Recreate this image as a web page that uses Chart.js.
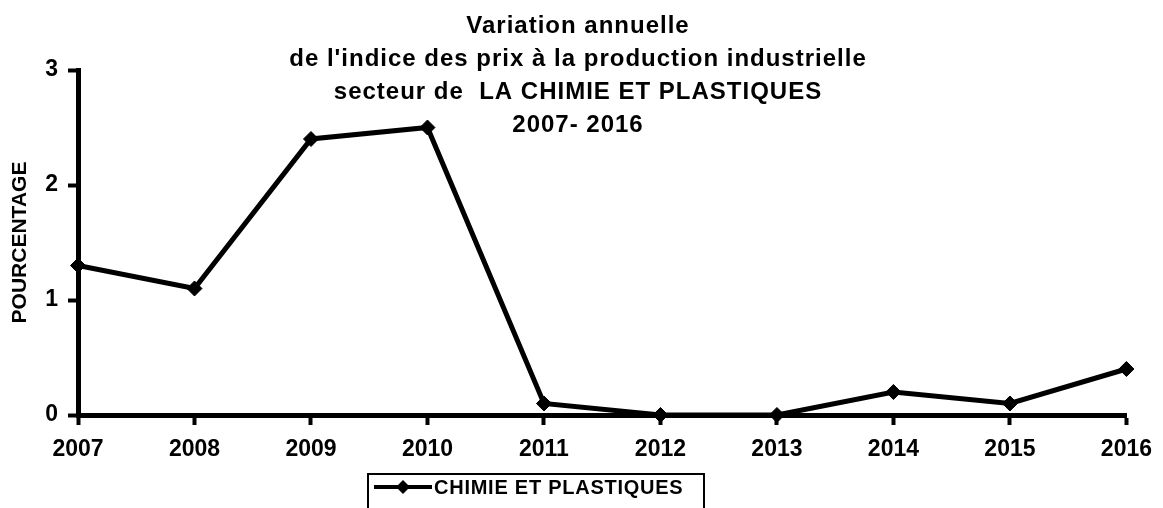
<!DOCTYPE html>
<html lang="fr">
<head>
<meta charset="UTF-8">
<title>Variation annuelle - Chimie et plastiques</title>
<script src="https://cdn.jsdelivr.net/npm/chart.js"></script>
<style>
  html, body { margin: 0; padding: 0; background: #fff; }
  .wrap { position: relative; width: 1163px; height: 508px; }
</style>
</head>
<body>
<div class="wrap"><canvas id="chart"></canvas></div>
<script>
const years = ['2007', '2008', '2009', '2010', '2011', '2012', '2013', '2014', '2015', '2016'];
const chimieValues = [1.3, 1.1, 2.4, 2.5, 0.1, 0, 0, 0.2, 0.1, 0.4];
const yTicks = [0, 1, 2, 3];
const titleLines = [
    'Variation annuelle',
    "de l'indice des prix à la production industrielle",
    'secteur de  LA CHIMIE ET PLASTIQUES',
    '2007- 2016'
];
const seriesName = 'CHIMIE ET PLASTIQUES';
const yAxisTitle = 'POURCENTAGE';

const FONT = '"Liberation Sans", Arial, sans-serif';

// title sits over the plot and the legend is a boxed line under the axis,
// so both are drawn by hand
const overlayText = {
    id: 'overlayText',
    afterDraw(chart) {
        const ctx = chart.ctx;
        ctx.save();
        ctx.fillStyle = '#000';
        ctx.strokeStyle = '#000';

        ctx.font = 'bold 24px ' + FONT;
        ctx.letterSpacing = '1px';
        ctx.textAlign = 'center';
        ctx.textBaseline = 'alphabetic';
        titleLines.forEach((t, i) => ctx.fillText(t, 578, 33 + i * 33));

        // legend
        ctx.lineWidth = 2;
        ctx.strokeRect(368, 474, 336, 60);
        ctx.lineWidth = 4;
        ctx.beginPath();
        ctx.moveTo(374, 487);
        ctx.lineTo(432, 487);
        ctx.stroke();
        ctx.beginPath();
        ctx.moveTo(396, 487);
        ctx.lineTo(403, 480);
        ctx.lineTo(410, 487);
        ctx.lineTo(403, 494);
        ctx.closePath();
        ctx.fill();

        ctx.font = 'bold 20px ' + FONT;
        ctx.letterSpacing = '0.75px';
        ctx.textAlign = 'left';
        ctx.textBaseline = 'middle';
        ctx.fillText(seriesName, 434, 488);
        ctx.restore();
    }
};

new Chart(document.getElementById('chart'), {
    type: 'line',
    data: {
        labels: years,
        datasets: [{
            label: seriesName,
            data: chimieValues,
            borderColor: '#000',
            backgroundColor: '#000',
            borderWidth: 5,
            pointStyle: 'rectRot',
            pointRadius: 7.5,
            pointBorderWidth: 1,
            pointBackgroundColor: '#000',
            pointBorderColor: '#000',
            tension: 0,
            clip: false
        }]
    },
    options: {
        responsive: true,
        maintainAspectRatio: false,
        animation: false,
        layout: { padding: { top: 70, right: 26, bottom: 0, left: 0 } },
        plugins: {
            legend: { display: false },
            title: { display: false },
            tooltip: { enabled: false }
        },
        scales: {
            x: {
                offset: false,
                ticks: {
                    color: '#000',
                    font: { family: FONT, size: 23, weight: 'bold' },
                    padding: 11,
                    maxRotation: 0,
                    autoSkip: false
                },
                grid: {
                    drawOnChartArea: false,
                    offset: false,
                    tickLength: 10,
                    tickWidth: 4,
                    tickColor: '#000'
                },
                border: { display: true, color: '#000', width: 5 },
                afterFit(scale) { scale.height = 93; }
            },
            y: {
                min: 0,
                max: 3,
                afterBuildTicks(scale) { scale.ticks = yTicks.map(v => ({ value: v })); },
                ticks: {
                    color: '#000',
                    font: { family: FONT, size: 23, weight: 'bold' },
                    padding: 10
                },
                grid: {
                    drawOnChartArea: false,
                    tickLength: 10,
                    tickWidth: 4,
                    tickColor: '#000'
                },
                border: { display: true, color: '#000', width: 5 },
                title: {
                    display: true,
                    text: yAxisTitle,
                    color: '#000',
                    font: { family: FONT, size: 21, weight: 'bold' },
                    padding: { top: 8, bottom: 0 }
                },
                afterFit(scale) { scale.width = 78; }
            }
        }
    },
    plugins: [overlayText]
});
</script>
</body>
</html>
